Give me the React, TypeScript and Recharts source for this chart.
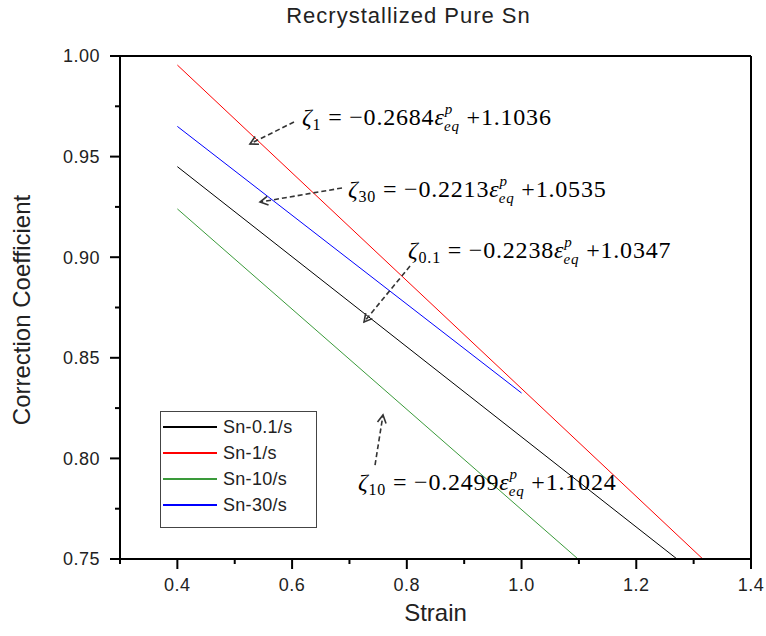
import { LineChart, Line, XAxis, YAxis, ReferenceDot, ReferenceLine } from "recharts";

// values
const strain01 = [0.4, 1.271];
const coef01 = [0.945, 0.75];
const strain1 = [0.4, 1.316];
const coef1 = [0.9955, 0.75];
const strain10 = [0.4, 1.0985];
const coef10 = [0.924, 0.75];
const strain30 = [0.4, 1.0];
const coef30 = [0.965, 0.8325];

const xTicks = [0.3, 0.4, 0.5, 0.6, 0.7, 0.8, 0.9, 1.0, 1.1, 1.2, 1.3, 1.4];
const yTicks = [0.75, 0.775, 0.8, 0.825, 0.85, 0.875, 0.9, 0.925, 0.95, 0.975, 1.0];

const seriesNames = ["Sn-0.1/s", "Sn-1/s", "Sn-10/s", "Sn-30/s"];
const seriesColors = ["#000000", "#ff0000", "#3a9a3a", "#0000ff"];

// fitted equations shown on the chart: subscript, slope, intercept
const eqSubs = ["1", "30", "0.1", "10"];
const eqSlopes = ["0.2684", "0.2213", "0.2238", "0.2499"];
const eqIntercepts = ["1.1036", "1.0535", "1.0347", "1.1024"];
const eqX = [0.6173, 0.6975, 0.8021, 0.7149];
const eqY = [0.9657, 0.9299, 0.8996, 0.7843];
// dashed arrows: from -> to (tip)
const arrowFrom = [[0.6033, 0.9672], [0.687, 0.9344], [0.8056, 0.8956], [0.7446, 0.7967]];
const arrowTo = [[0.5266, 0.9563], [0.5441, 0.9274], [0.7254, 0.8678], [0.7585, 0.8216]];

const toPoints = (xs: number[], ys: number[]) => xs.map((x, i) => ({ x, y: ys[i] }));
const series = [
  toPoints(strain01, coef01),
  toPoints(strain1, coef1),
  toPoints(strain10, coef10),
  toPoints(strain30, coef30),
];

const SANS = "'Liberation Sans', Arial, sans-serif";
const SERIF = "'Liberation Serif', 'Times New Roman', serif";

const isMajorX = (v: number) => Math.round(v * 10) % 2 === 0;
const isMajorY = (v: number) => Math.round(v * 1000) % 50 === 0;

const BottomTick = ({ x, y, payload }: any) => {
  const major = isMajorX(payload.value);
  return (
    <g>
      <line x1={x} y1={y} x2={x} y2={y + (major ? 10 : 5)} stroke="#000" strokeWidth={2} />
      {major && (
        <text x={x} y={y + 32} textAnchor="middle" fontSize={18} fontFamily={SANS} fill="#222" letterSpacing={0.5}>
          {payload.value.toFixed(1)}
        </text>
      )}
    </g>
  );
};

const TopTick = ({ x, y, payload }: any) => {
  const major = isMajorX(payload.value);
  return <line x1={x} y1={y} x2={x} y2={y - (major ? 9 : 4)} stroke="#000" strokeWidth={2} />;
};

const LeftTick = ({ x, y, payload }: any) => {
  const major = isMajorY(payload.value);
  return (
    <g>
      <line x1={x - (major ? 10 : 5)} y1={y} x2={x} y2={y} stroke="#000" strokeWidth={2} />
      {major && (
        <text x={x - 20} y={y} dy="0.35em" textAnchor="end" fontSize={18} fontFamily={SANS} fill="#222" letterSpacing={0.5}>
          {payload.value.toFixed(2)}
        </text>
      )}
    </g>
  );
};

const Equation = ({ cx, cy, i }: any) => (
  <text x={cx} y={cy} fontSize={24} fontFamily={SERIF} fill="#000" letterSpacing={0.8}>
    <tspan fontStyle="italic">ζ</tspan>
    <tspan fontSize={16} dy={5}>{eqSubs[i]}</tspan>
    <tspan dy={-5}>{` = −${eqSlopes[i]}`}</tspan>
    <tspan fontStyle="italic">ε</tspan>
    <tspan fontStyle="italic" fontSize={15} dy={-11}>p</tspan>
    <tspan fontStyle="italic" fontSize={15} dx={-9} dy={17}>eq</tspan>
    <tspan dy={-6}>{` +${eqIntercepts[i]}`}</tspan>
  </text>
);

const Arrow = (props: any) => {
  const { x1, y1, x2, y2 } = props;
  const ang = Math.atan2(y2 - y1, x2 - x1);
  const len = 9;
  const a1 = ang + Math.PI - 0.5;
  const a2 = ang + Math.PI + 0.5;
  return (
    <g stroke="#333" strokeWidth={1.6} fill="none">
      <line x1={x1} y1={y1} x2={x2} y2={y2} strokeDasharray="5 3" />
      <polyline
        points={`${x2 + len * Math.cos(a1)},${y2 + len * Math.sin(a1)} ${x2},${y2} ${x2 + len * Math.cos(a2)},${y2 + len * Math.sin(a2)}`}
      />
    </g>
  );
};

export default function App() {
  return (
    <div style={{ position: "absolute", left: 0, top: 0, width: 766, height: 636, background: "#fff" }}>
      <LineChart width={766} height={636} margin={{ top: 46, right: 15, left: 0, bottom: 0 }}>
        <XAxis
          dataKey="x"
          type="number"
          domain={[0.3, 1.4]}
          ticks={xTicks}
          height={77}
          tickSize={0}
          tickMargin={0}
          tickLine={false}
          tick={<BottomTick />}
          axisLine={{ stroke: "#000", strokeWidth: 2 }}
          allowDuplicatedCategory={false}
        />
        <XAxis
          xAxisId="top"
          orientation="top"
          type="number"
          domain={[0.3, 1.4]}
          ticks={xTicks}
          height={10}
          tickSize={0}
          tickMargin={0}
          tickLine={false}
          tick={<TopTick />}
          axisLine={{ stroke: "#000", strokeWidth: 2 }}
        />
        <YAxis
          type="number"
          domain={[0.75, 1.0]}
          ticks={yTicks}
          width={120}
          tickSize={0}
          tickMargin={0}
          tickLine={false}
          tick={<LeftTick />}
          axisLine={{ stroke: "#000", strokeWidth: 2 }}
        />
        <ReferenceLine x={1.4} stroke="#000" strokeWidth={2} />
        {series.map((d, i) => (
          <Line
            key={seriesNames[i]}
            data={d}
            dataKey="y"
            name={seriesNames[i]}
            stroke={seriesColors[i]}
            strokeWidth={1}
            dot={false}
            isAnimationActive={false}
          />
        ))}
        {eqSubs.map((s, i) => (
          <ReferenceLine
            key={"arrow" + s}
            segment={[
              { x: arrowFrom[i][0], y: arrowFrom[i][1] },
              { x: arrowTo[i][0], y: arrowTo[i][1] },
            ]}
            shape={(p: any) => <Arrow {...p} />}
          />
        ))}
        {eqSubs.map((s, i) => (
          <ReferenceDot
            key={"eq" + s}
            x={eqX[i]}
            y={eqY[i]}
            r={0}
            shape={(p: any) => <Equation {...p} i={i} />}
          />
        ))}
      </LineChart>

      <div
        style={{
          position: "absolute",
          left: 0,
          top: 3,
          width: 817,
          textAlign: "center",
          fontFamily: SANS,
          fontSize: 22,
          letterSpacing: 1,
          color: "#222",
          lineHeight: "26px",
        }}
      >
        Recrystallized Pure Sn
      </div>
      <div
        style={{
          position: "absolute",
          left: 120,
          top: 599,
          width: 631,
          textAlign: "center",
          fontFamily: SANS,
          fontSize: 24,
          color: "#222",
          lineHeight: "28px",
        }}
      >
        Strain
      </div>
      <div
        style={{
          position: "absolute",
          left: 22 - 200,
          top: 310 - 14,
          width: 400,
          textAlign: "center",
          fontFamily: SANS,
          fontSize: 24,
          color: "#222",
          lineHeight: "28px",
          transform: "rotate(-90deg)",
        }}
      >
        Correction Coefficient
      </div>

      <div
        style={{
          position: "absolute",
          left: 160,
          top: 411,
          width: 155,
          height: 115,
          border: "1.5px solid #444",
          background: "#fff",
          fontFamily: SANS,
          fontSize: 18,
          color: "#222",
        }}
      >
        {seriesNames.map((n, i) => (
          <div
            key={n}
            style={{ position: "absolute", left: 0, top: 2 + i * 26, height: 26, display: "flex", alignItems: "center" }}
          >
            <div style={{ width: 54, height: 1.5, background: seriesColors[i], marginLeft: 2 }} />
            <span style={{ marginLeft: 6, letterSpacing: 0.3 }}>{n}</span>
          </div>
        ))}
      </div>
    </div>
  );
}
